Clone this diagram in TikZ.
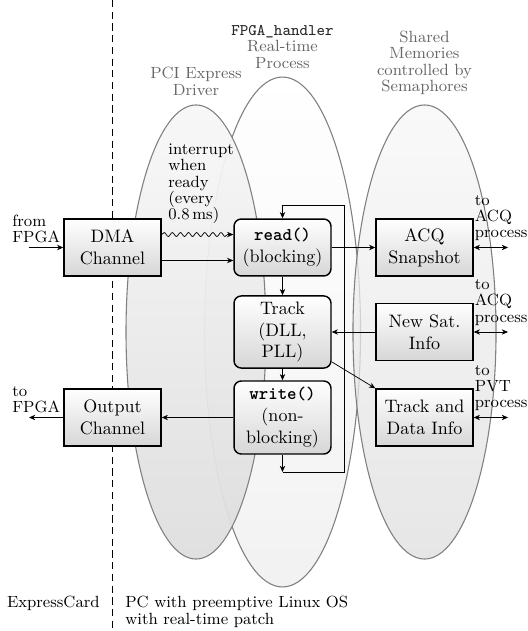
\documentclass[tikz,border=0pt]{standalone}
\usepackage{tikz}
\usetikzlibrary{shapes.geometric,positioning,decorations.pathmorphing,arrows.meta}

\begin{document}
\begin{tikzpicture}[x=0.555pt, y=-0.555pt, >={Stealth[length=3.5pt,width=3pt]},
  blob/.style = {ellipse, draw=black!50, line width=0.6pt, inner sep=0pt, fill opacity=0.75, draw opacity=1},
  box/.style = {draw, thick, top color=white, bottom color=black!16, minimum width=53.8pt, minimum height=31.6pt, align=center, inner sep=1pt},
  rbox/.style = {box, rounded corners=4pt},
  note/.style = {font={\small\linespread{0.82}\selectfont}, align=left, inner sep=0pt},
  region/.style = {font={\small\linespread{0.82}\selectfont}, align=center, text=black!60}]
\useasboundingbox (0,0) rectangle (527,631);

% the three software regions
\node[blob, minimum width=86.6pt, minimum height=283pt, top color=white, bottom color=black!7] (rtp) at (282.5,332) {};
\node[blob, minimum width=79.4pt, minimum height=252pt, top color=black!3, bottom color=black!13] (shm) at (424.5,332) {};
\node[blob, fill opacity=0.95, minimum width=77.7pt, minimum height=252pt, top color=black!3, bottom color=black!13] (pci) at (196,332) {};
\node[region, above=1.5pt of pci.north] (pciLbl) {PCI Express\\Driver};
\node[region, above=1pt of rtp.north] (rtpLbl) {\textcolor{black!85}{\texttt{FPGA\_handler}}\\Real-time\\Process};
\node[region, above=2pt of shm.north] (shmLbl) {Shared\\Memories\\controlled by\\Semaphores};

% card / PC border
\coordinate (sepTop) at (112,0);
\coordinate (sepBot) at (112,631);
\draw[dash pattern=on 4pt off 2.5pt] (sepTop) -- (sepBot);
\node[note, anchor=base east] (card) at (100,607) {ExpressCard};
\node[note, anchor=north west, font={\small\linespread{0.65}\selectfont}] (pc) at (125,596) {PC with preemptive Linux OS\\with real-time patch};

% blocks
\node[box] (dma) at (112.5,247.5) {DMA\\Channel};
\node[box] (out) at (112.5,417.5) {Output\\Channel};
\node[rbox] (read) at (282.5,247.5) {\texttt{\textbf{read()}}\\(blocking)};
\node[rbox, minimum height=40pt] (track) at (282.5,332) {Track\\(DLL,\\PLL)};
\node[rbox, minimum height=40.5pt] (write) at (282.5,417.5) {\texttt{\textbf{write()}}\\(non-\\blocking)};
\node[box] (acq) at (424.5,247.5) {ACQ\\Snapshot};
\node[box] (newsat) at (424.5,332) {New Sat.\\Info};
\node[box] (tdi) at (424.5,417.5) {Track and\\Data Info};

% outside ends
\coordinate (fromF) at (29,247.5);
\coordinate (toF) at (29,417.5);
\coordinate (acqR) at (508,247.5);
\coordinate (newsatR) at (508,332);
\coordinate (tdiR) at (508,417.5);
\node[note, anchor=south west] (fromLbl) at (12,243) {from\\FPGA};
\node[note, anchor=south west] (toLbl) at (12,413) {to\\FPGA};
\node[note, above right=3.5pt and 0.5pt of acq.east] (acqLbl) {to\\ACQ\\process};
\node[note, above right=3.5pt and 0.5pt of newsat.east] (newsatLbl) {to\\ACQ\\process};
\node[note, above right=3.5pt and 0.5pt of tdi.east] (tdiLbl) {to\\PVT\\process};
\node[note, anchor=south west] (irqLbl) at (168,224) {interrupt\\when\\ready\\(every\\0.8\,ms)};

% data flow
\draw[->] (fromF) -- (dma);
\draw[->] (out) -- (toF);
\draw[->, decorate, decoration={snake, amplitude=1.1pt, segment length=4.5pt, post length=2pt}] ([yshift=7.2pt]dma.east) -- ([yshift=7.2pt]read.west);
\draw[->] ([yshift=-7.2pt]dma.east) -- ([yshift=-7.2pt]read.west);
\draw[->] (read) -- (acq);
\draw[->] (newsat) -- (track);
\draw[->] (track) -- (tdi.north west);
\draw[->] (read) -- (track);
\draw[->] (track) -- (write);
\draw[->] (write) -- (out);
\draw[<->] (acq) -- (acqR);
\draw[<->] (newsat) -- (newsatR);
\draw[<->] (tdi) -- (tdiR);

% loop back to read()
\coordinate (loopA) at (282.5,472);
\coordinate (loopB) at (344.5,472);
\coordinate (loopC) at (344.5,205);
\coordinate (loopD) at (282.5,205);
\draw[->] (write) -- (loopA);
\draw[->] (loopA) -- (loopB) -- (loopC) -- (loopD) -- (read);
\end{tikzpicture}
\end{document}
